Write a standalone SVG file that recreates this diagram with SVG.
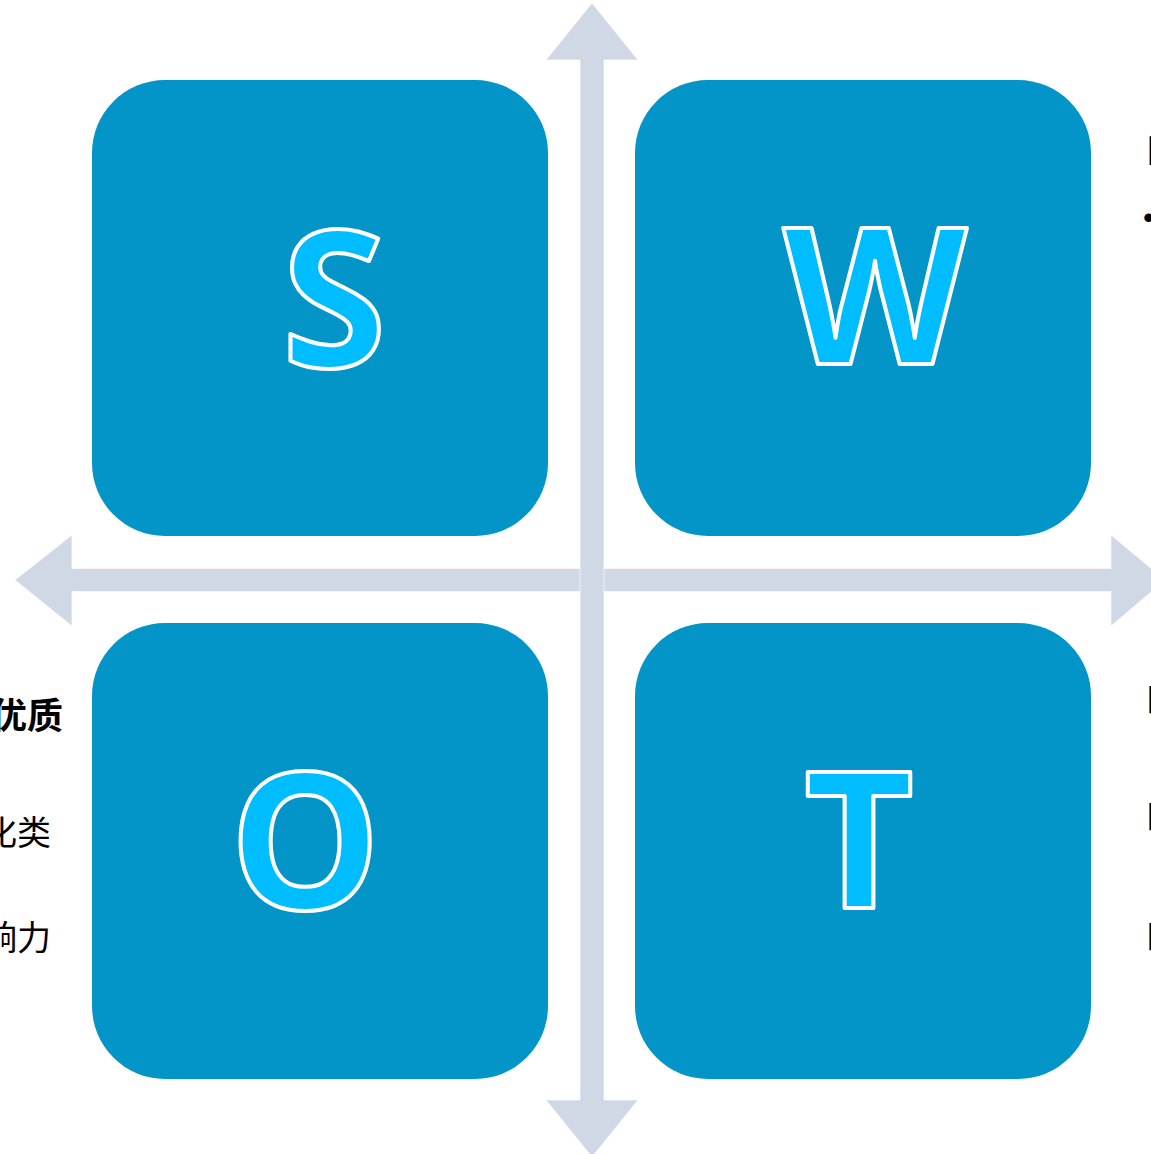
<svg xmlns="http://www.w3.org/2000/svg" width="1151" height="1154" viewBox="0 0 1151 1154">
<style>
.box{fill:#0394C8}
.ar{fill:#D0D7E5;stroke:#FFFFFF;stroke-width:1;stroke-opacity:0.6}
.let{font-family:"Open Sans","DejaVu Sans",sans-serif;font-weight:bold;font-size:190px;fill:#00BDFF;stroke:#FFFFFF;stroke-width:4;stroke-linejoin:round;text-anchor:middle}
.cn{font-family:"Noto Sans CJK SC",sans-serif;font-size:34px;fill:#000000}
.cnb{font-weight:bold;font-size:36px}
.bul{font-family:"Liberation Sans",sans-serif;font-size:32px;fill:#000000}
</style>
<rect width="1151" height="1154" fill="#FFFFFF"/>
<g id="connectors">
<polygon class="ar" points="15,580 72,535 72,568.5 1111,568.5 1111,535 1165,580 1111,626 1111,591.5 72,591.5 72,626"/>
<polygon class="ar" points="592,3 638,60 604,60 604,1100 638,1100 592,1157 546,1100 580,1100 580,60 546,60"/>
</g>
<g id="node-s">
<rect class="box" x="92" y="80" width="456" height="456" rx="73"/>
<text class="let" x="334" y="367">S</text>
</g>
<g id="node-w">
<rect class="box" x="635" y="80" width="456" height="456" rx="73"/>
<text class="let" x="875" y="364">W</text>
</g>
<g id="node-o">
<rect class="box" x="92" y="623" width="456" height="456" rx="73"/>
<text class="let" x="305" y="909">O</text>
</g>
<g id="node-t">
<rect class="box" x="635" y="623" width="456" height="456" rx="73"/>
<text class="let" x="859" y="908">T</text>
</g>
<g id="left-text">
<text class="cn cnb" x="63" y="729" text-anchor="end">优质</text>
<text class="cn" x="51" y="845" text-anchor="end">化类</text>
<text class="cn" x="51" y="950" text-anchor="end">响力</text>
</g>
<g id="right-text">
<text class="cn cnb" x="1146" y="165">■</text>
<text class="bul" x="1143" y="228">•</text>
<text class="cn" x="1146" y="713">■</text>
<text class="cn" x="1146" y="830">■</text>
<text class="cn" x="1146" y="950">■</text>
</g>
</svg>
